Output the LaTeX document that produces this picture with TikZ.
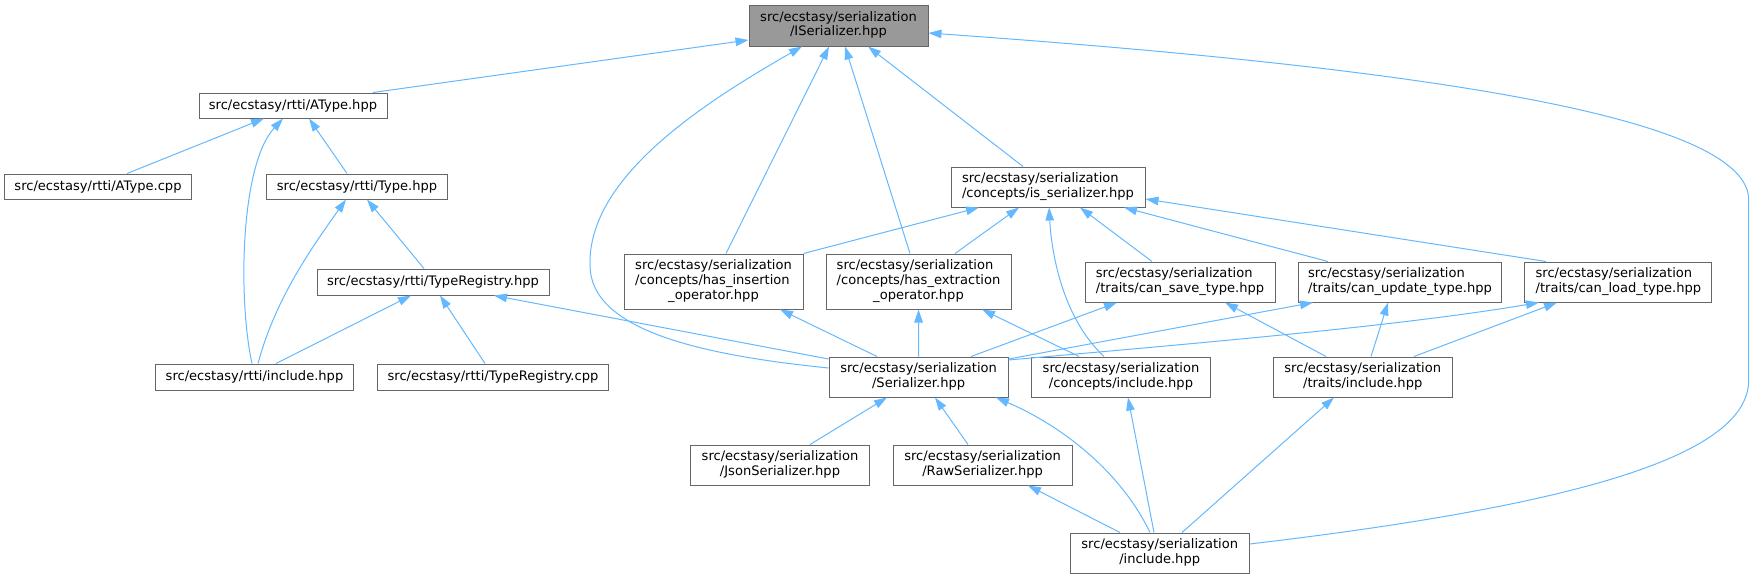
\documentclass[tikz,border=0pt]{standalone}
\usepackage{fontspec}
\setmainfont{DejaVu Sans}
\usetikzlibrary{arrows.meta}

\definecolor{edgeblue}{HTML}{63B8FF}
\definecolor{boxline}{HTML}{666666}
\definecolor{boxfill}{HTML}{999999}
% all lines left, last one centred
\newcommand{\lbl}[2]{\begin{tabular}{@{}l@{}}#1\\\multicolumn{1}{@{}c@{}}{#2}\end{tabular}}

\begin{document}
\begin{tikzpicture}[x=0.75pt,y=-0.75pt,>={Triangle[length=9.75pt,width=6.4pt]},
  filebox/.style 2 args={draw=boxline,line width=0.75pt,fill=white,inner sep=0pt,
    minimum width=#1*0.75pt,minimum height=#2*0.75pt,font=\fontsize{9.8}{11}\selectfont},
  dep/.style={draw=edgeblue,line width=0.75pt,<-}]
  \useasboundingbox (0,0) rectangle (1755,579);

  \node[filebox={179}{41},fill=boxfill] (iser) at (838.5,25.5) {\lbl{src/ecstasy/serialization}{/ISerializer.hpp}};
  \node[filebox={188}{25}] (atype) at (293,105.5) {src/ecstasy/rtti/AType.hpp};
  \node[filebox={187}{25}] (atypecpp) at (98,186.5) {src/ecstasy/rtti/AType.cpp};
  \node[filebox={181}{25}] (type) at (357,186.5) {src/ecstasy/rtti/Type.hpp};
  \node[filebox={232}{26}] (treg) at (433,282) {src/ecstasy/rtti/TypeRegistry.hpp};
  \node[filebox={198}{26}] (rttiinc) at (254.5,377) {src/ecstasy/rtti/include.hpp};
  \node[filebox={231}{26}] (tregcpp) at (493,377) {src/ecstasy/rtti/TypeRegistry.cpp};
  \node[filebox={194}{40}] (isser) at (1048,187) {\lbl{src/ecstasy/serialization}{/concepts/is\_serializer.hpp}};
  \node[filebox={179}{55}] (hasins) at (713.5,281.5) {\lbl{src/ecstasy/serialization\\/concepts/has\_insertion}{\_operator.hpp}};
  \node[filebox={185}{55}] (hasext) at (918.5,281.5) {\lbl{src/ecstasy/serialization\\/concepts/has\_extraction}{\_operator.hpp}};
  \node[filebox={190}{40}] (cansave) at (1180,282) {\lbl{src/ecstasy/serialization}{/traits/can\_save\_type.hpp}};
  \node[filebox={203}{40}] (canupd) at (1400,282) {\lbl{src/ecstasy/serialization}{/traits/can\_update\_type.hpp}};
  \node[filebox={187}{40}] (canload) at (1618.4,282) {\lbl{src/ecstasy/serialization}{/traits/can\_load\_type.hpp}};
  \node[filebox={179}{40}] (ser) at (918.6,377) {\lbl{src/ecstasy/serialization}{/Serializer.hpp}};
  \node[filebox={179}{40}] (coninc) at (1121,377) {\lbl{src/ecstasy/serialization}{/concepts/include.hpp}};
  \node[filebox={179}{40}] (trinc) at (1362.7,377) {\lbl{src/ecstasy/serialization}{/traits/include.hpp}};
  \node[filebox={179}{40}] (json) at (780,465) {\lbl{src/ecstasy/serialization}{/JsonSerializer.hpp}};
  \node[filebox={179}{40}] (raw) at (982.6,465) {\lbl{src/ecstasy/serialization}{/RawSerializer.hpp}};
  \node[filebox={179}{40}] (serinc) at (1159.7,553) {\lbl{src/ecstasy/serialization}{/include.hpp}};

  % ISerializer.hpp
  \draw[dep] (iser.west |- 0,40) -- (373,0 |- atype.north);
  \draw[dep] (802,0 |- iser.south) .. controls (700,105) and (588,178) .. (590,265) .. controls (590,330) and (700,355) .. (ser.west |- 0,368);
  \draw[dep] (829,0 |- iser.south) -- (726,0 |- hasins.north);
  \draw[dep] (845,0 |- iser.south) -- (910,0 |- hasext.north);
  \draw[dep] (868,0 |- iser.south) -- (1023,0 |- isser.north);
  \draw[dep] (iser.east |- 0,33) .. controls (1450,70) and (1748.7,120) .. (1748.7,200) -- (1748.7,380) .. controls (1748.7,455) and (1580,505) .. (serinc.east |- 0,544);
  % rtti
  \draw[dep] (264,0 |- atype.south) -- (127,0 |- atypecpp.north);
  \draw[dep] (283,0 |- atype.south) .. controls (240,165) and (238,300) .. (252,0 |- rttiinc.north);
  \draw[dep] (309,0 |- atype.south) -- (347,0 |- type.north);
  \draw[dep] (346,0 |- type.south) .. controls (310,250) and (275,300) .. (258,0 |- rttiinc.north);
  \draw[dep] (367,0 |- type.south) -- (424,0 |- treg.north);
  \draw[dep] (411,0 |- treg.south) -- (276,0 |- rttiinc.north);
  \draw[dep] (440,0 |- treg.south) -- (485,0 |- tregcpp.north);
  \draw[dep] (494,0 |- treg.south) -- (ser.west |- 0,359);
  % concepts/is_serializer.hpp
  \draw[dep] (979,0 |- isser.south) -- (hasins.north east);
  \draw[dep] (1019,0 |- isser.south) -- (955,0 |- hasext.north);
  \draw[dep] (1049,0 |- isser.south) .. controls (1052,260) and (1065,320) .. (1104,0 |- coninc.north);
  \draw[dep] (1080,0 |- isser.south) -- (1152,0 |- cansave.north);
  \draw[dep] (1124,0 |- isser.south) -- (1328,0 |- canupd.north);
  \draw[dep] (isser.east |- 0,199) -- (1546,0 |- canload.north);
  % operators and traits
  \draw[dep] (780,0 |- hasins.south) -- (877,0 |- ser.north);
  \draw[dep] (hasext) -- (ser);
  \draw[dep] (982,0 |- hasext.south) -- (1079,0 |- coninc.north);
  \draw[dep] (1117,0 |- cansave.south) -- (971,0 |- ser.north);
  \draw[dep] (1225,0 |- cansave.south) -- (1326,0 |- trinc.north);
  \draw[dep] (1313,0 |- canupd.south) -- (ser.east |- 0,359);
  \draw[dep] (1388,0 |- canupd.south) -- (1371,0 |- trinc.north);
  \draw[dep] (1539,0 |- canload.south) .. controls (1400,326) and (1200,343) .. (ser.east |- 0,360);
  \draw[dep] (1557,0 |- canload.south) -- (1414,0 |- trinc.north);
  % Serializer.hpp and the includes
  \draw[dep] (887,0 |- ser.south) -- (810,0 |- json.north);
  \draw[dep] (935,0 |- ser.south) -- (968,0 |- raw.north);
  \draw[dep] (996,0 |- ser.south) .. controls (1060,425) and (1120,470) .. (1150,0 |- serinc.north);
  \draw[dep] (1128,0 |- coninc.south) -- (1154,0 |- serinc.north);
  \draw[dep] (1334,0 |- trinc.south) -- (1182,0 |- serinc.north);
  \draw[dep] (1028,0 |- raw.south) -- (1120,0 |- serinc.north);
\end{tikzpicture}
\end{document}
